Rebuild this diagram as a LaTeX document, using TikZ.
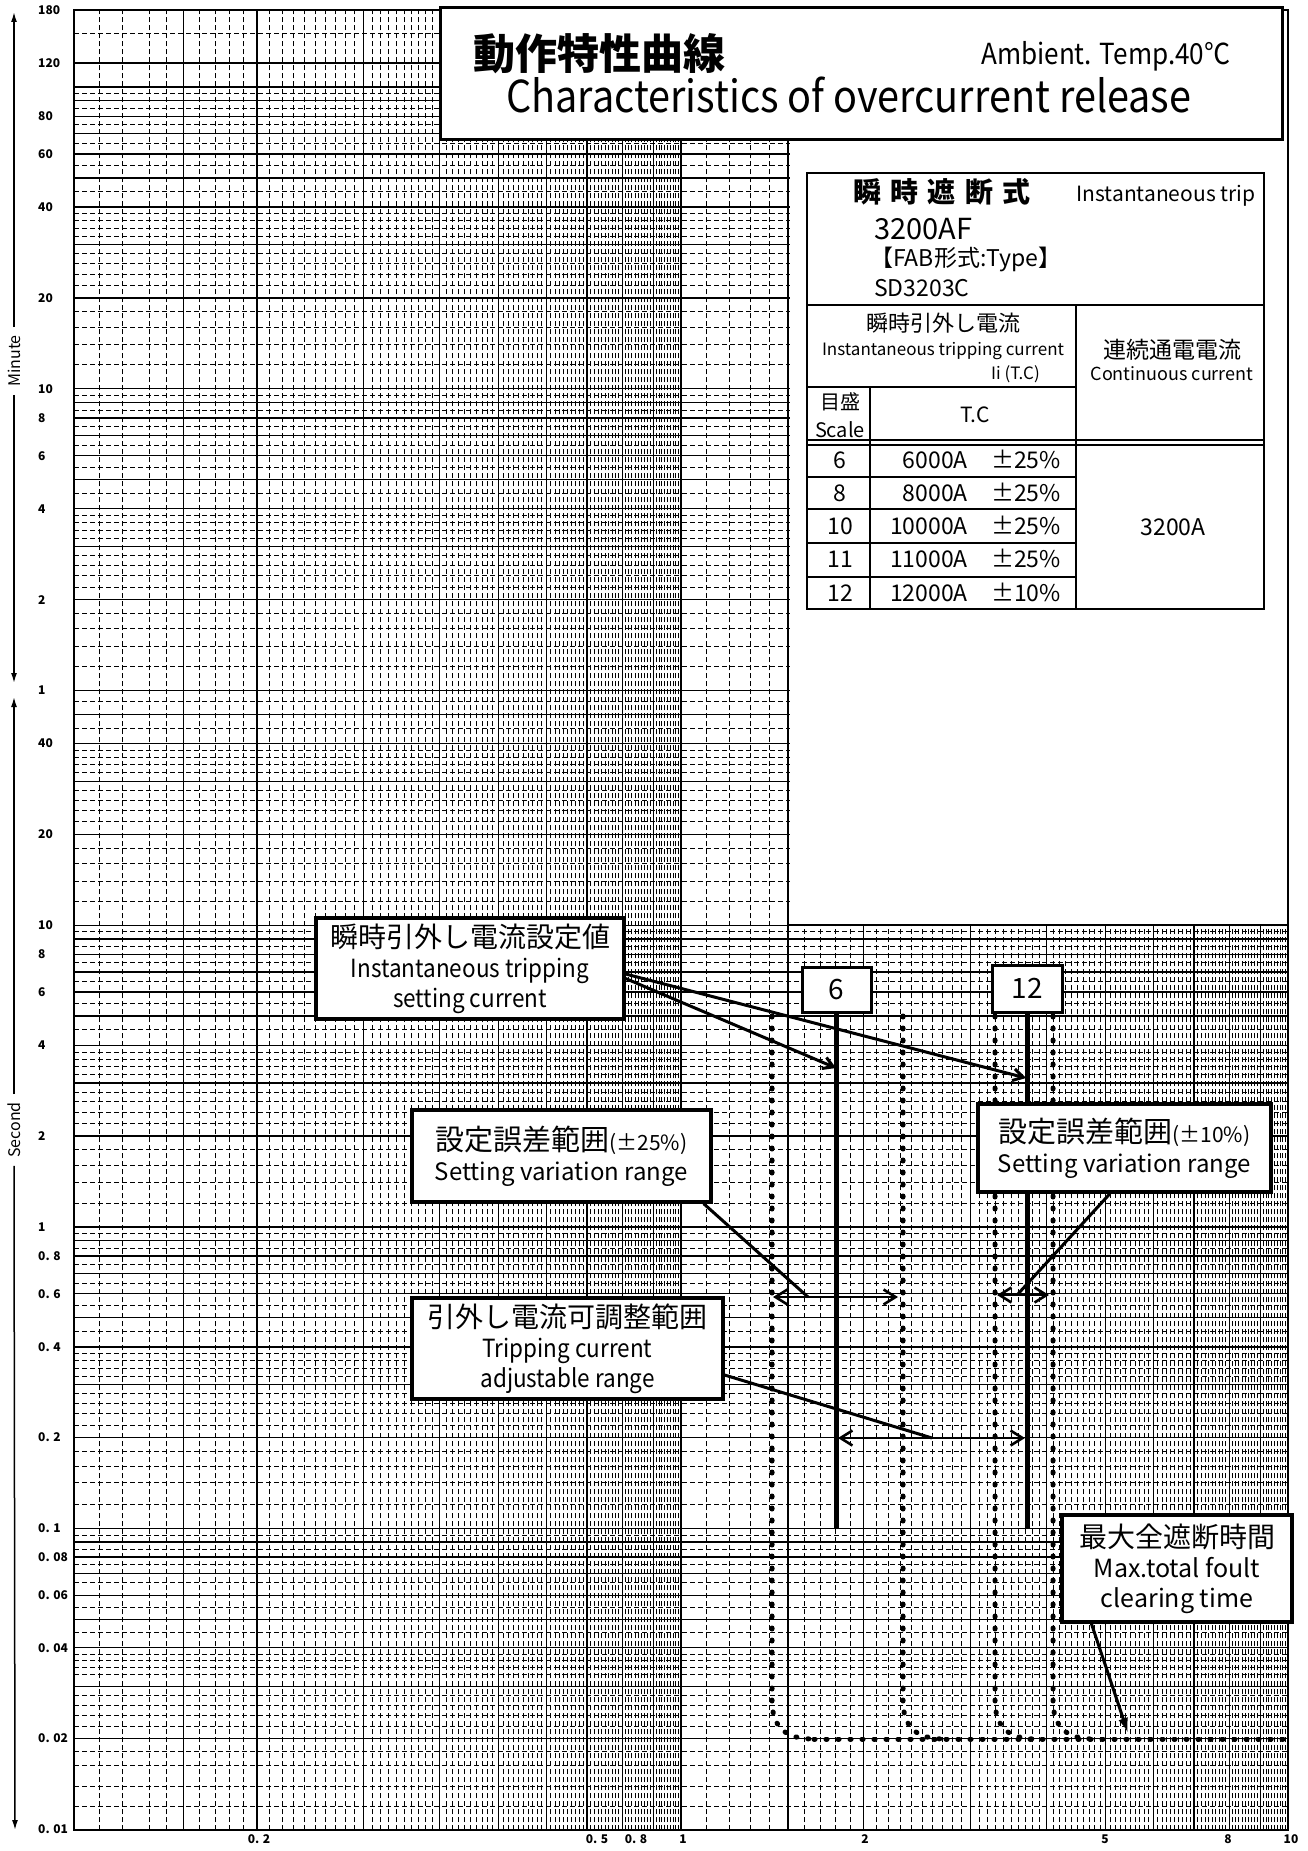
\documentclass[tikz,border=0pt]{standalone}
\usepackage{fontspec}
\setmainfont{Noto Sans CJK JP}
\newfontfamily\narrowsans[FakeStretch=0.9]{Noto Sans CJK JP}
\usetikzlibrary{arrows.meta}

\begin{document}
\begin{tikzpicture}[x=1pt, y=-1pt,
  gridsolid/.style={line width=1.3pt},
  griddash/.style={line width=0.9pt, dash pattern=on 5pt off 3pt},
  dotline/.style={line width=5pt, line cap=round, dash pattern=on 1pt off 11pt},
  callout/.style={draw, line width=3.2pt, fill=white, inner sep=0pt, align=center},
  tcbox/.style={draw, line width=3pt, fill=white, inner sep=0pt, font=\fontsize{28}{30}\selectfont},
  pointer/.style={line width=3pt},
  barb/.style={pointer, -{Straight Barb[length=10pt,width=12pt]}},
  rangearrow/.style={line width=2.6pt, {Straight Barb[length=12pt,width=15pt]}-{Straight Barb[length=12pt,width=15pt]}},
  axisarrow/.style={line width=1.5pt, -{Latex[length=10pt,width=6pt]}},
  ylab/.style={anchor=west, inner sep=0pt, font=\bfseries\fontsize{12}{12}\selectfont},
  xlab/.style={inner sep=0pt, font=\bfseries\fontsize{12}{12}\selectfont},
  ttext/.style={anchor=base, inner sep=0pt}]

\useasboundingbox (0,0) rectangle (1307,1851);
\fill[white] (0,0) rectangle (1307,1851);

%% log-log grid -- current 0.1..10, time 0.01 s .. 180 min
\begin{scope}[shift={(681,1226.9)}, x=607pt, y=301.7pt]
  %% vertical lines
  \foreach \d in {0.1,1}{
    \foreach \k in {11,...,99}{
      \pgfmathtruncatemacro\r{mod(\k,10)}
      \ifnum\r=0\relax\else\ifnum\k=15\relax\else
        \draw[griddash] ({log10(\d*\k/10)},-2) -- ({log10(\d*\k/10)},4.0334);
      \fi\fi
    }
    \foreach \v in {1,1.5,2,3,4,5,6,7,8,9}
      \draw[gridsolid] ({log10(\d*\v)},-2) -- ({log10(\d*\v)},4.0334);
  }
  %% horizontal lines, one decade after the other (seconds, then minutes)
  \foreach \b/\top in {0.01/10, 0.1/10, 1/10, 10/5.9, 60/10, 600/10}{
    \foreach \u in {1.2,1.4,1.6,1.8,2.2,2.4,2.6,2.8,3.2,3.4,3.6,3.8,4.5,5.5,6.5,7.5,8.5,9.5}{
      \ifdim\u pt<\top pt
        \draw[griddash] (-1,{log10(\b*\u)}) -- (1,{log10(\b*\u)});
      \fi
    }
    \foreach \u in {1,...,9}{
      \ifdim\u pt<\top pt
        \draw[gridsolid] (-1,{log10(\b*\u)}) -- (1,{log10(\b*\u)});
      \fi
    }
  }
  %% top: 100, 120, 150 min
  \draw[gridsolid] (-1,{log10(6000)}) -- (1,{log10(6000)});
  \draw[gridsolid] (-1,{log10(7200)}) -- (1,{log10(7200)});
  \draw[griddash] (-1,{log10(9000)}) -- (1,{log10(9000)});
\end{scope}

%% blank corner for the table
\fill[white] (789.5,0) rectangle (1287,923.5);
\draw[gridsolid] (788,10) -- (788,925) -- (1288,925);

%% frame
\draw[line width=2pt] (74,10) rectangle (1288,1830);

%% title
\draw[line width=3pt, fill=white] (440,8) rectangle (1282,140);
\node[ttext, anchor=base west, font=\bfseries\fontsize{42}{42}\selectfont] (titlejp) at (473,70) {動作特性曲線};
\node[ttext, anchor=base west, font=\narrowsans\fontsize{29}{29}\selectfont] (ambient) at (981,65) {Ambient. Temp.40℃};
\node[ttext, anchor=base west, font=\narrowsans\fontsize{44}{44}\selectfont] (titleen) at (506,113) {Characteristics of overcurrent release};

%% table
\draw[line width=2.5pt] (807,173) rectangle (1264,609);
\draw[line width=2pt] (807,305) -- (1264,305);
\draw[line width=2pt] (1076,305) -- (1076,609);
\draw[line width=2pt] (807,387) -- (1076,387);
\draw[line width=2pt] (870,387) -- (870,609);
\draw[line width=2pt] (807,440) -- (1264,440);
\draw[line width=2pt] (807,445) -- (1264,445);
\foreach \y in {477,509,543,577}
  \draw[line width=2pt] (807,\y) -- (1076,\y);

\node[ttext, font=\bfseries\fontsize{28}{28}\selectfont] (insttitle) at (942,203) {瞬\,\,時\,\,遮\,\,断\,\,式};
\node[ttext, font=\fontsize{21}{21}\selectfont] (insttrip) at (1166,202) {Instantaneous trip};
\node[ttext, anchor=base west, font=\fontsize{29}{29}\selectfont] (frame) at (874,240) {3200AF};
\node[ttext, anchor=base west, font=\fontsize{23}{23}\selectfont] (fabtype) at (870,267) {【FAB形式:Type】};
\node[ttext, anchor=base west, font=\fontsize{23}{23}\selectfont] (typeno) at (874,297) {SD3203C};
\node[ttext, font=\fontsize{22}{22}\selectfont] (tripjp) at (943,331) {瞬時引外し電流};
\node[ttext, font=\fontsize{17}{17}\selectfont] (tripen) at (943,355) {Instantaneous tripping current};
\node[ttext, anchor=base east, font=\fontsize{17}{17}\selectfont] (tripii) at (1040,379) {Ii (T.C)};
\node[ttext, font=\fontsize{23}{23}\selectfont] (contjp) at (1172,358) {連続通電電流};
\node[ttext, font=\fontsize{18}{18}\selectfont] (conten) at (1172,380) {Continuous current};
\node[ttext, font=\fontsize{20}{20}\selectfont] (scalejp) at (840,409) {目盛};
\node[ttext, font=\fontsize{20}{20}\selectfont] (scaleen) at (840,437) {Scale};
\node[ttext, font=\fontsize{21}{21}\selectfont] (tchead) at (975,422) {T.C};
\foreach \s/\a/\p [count=\i] in {6/6000A/25, 8/8000A/25, 10/10000A/25, 11/11000A/25, 12/12000A/10}{
  \pgfmathsetmacro\b{468+33.25*(\i-1)}
  \node[ttext, font=\fontsize{23}{23}\selectfont] (sc\i) at (840,\b) {\s};
  \node[ttext, anchor=base east, font=\fontsize{23}{23}\selectfont] (tc\i) at (968,\b) {\a};
  \node[ttext, anchor=base west, font=\fontsize{23}{23}\selectfont] (tol\i) at (991,\b) {±\p\%};
}
\node[ttext, font=\fontsize{23}{23}\selectfont] (contval) at (1173,535) {3200A};

%% time axis
\node[rotate=90, inner sep=8pt, font=\fontsize{16}{16}\selectfont] (minute) at (14,361) {Minute};
\node[rotate=90, inner sep=8pt, font=\fontsize{16}{16}\selectfont] (second) at (14,1130) {Second};
\draw[axisarrow] (minute.east) -- (14,12);
\draw[axisarrow] (minute.west) -- (14,683);
\draw[axisarrow] (second.east) -- (14,697);
\draw[axisarrow] (second.west) -- (15,1830);

\foreach \m [count=\i] in {180,120,80,60,40,20,10,8,6,4,2,1}
  \node[ylab] (lmin\i) at (38,{1226.9-301.7*log10(60*\m)}) {\m};
\foreach \s/\txt [count=\i] in {40/40,20/20,10/10,8/8,6/6,4/4,2/2,1/1,0.8/0. 8,0.6/0. 6,0.4/0. 4,0.2/0. 2,0.1/0. 1,0.08/0. 08,0.06/0. 06,0.04/0. 04,0.02/0. 02,0.01/0. 01}
  \node[ylab] (lsec\i) at (38,{1226.9-301.7*log10(\s)}) {\txt};

%% current axis
\foreach \x/\txt [count=\i] in {259/0. 2, 597/0. 5, 636/0. 8, 683/1, 865/2, 1105/5, 1228/8, 1291/10}
  \node[xlab] (lcur\i) at (\x,1839) {\txt};

%% setting lines 6 and 12
\node[tcbox, minimum width=69pt, minimum height=45pt] (tc6) at (836.5,989.5) {6};
\node[tcbox, minimum width=70pt, minimum height=47pt] (tc12) at (1027,988.5) {12};
\coordinate (bot6) at (836.5,1528);
\coordinate (bot12) at (1027,1528);
\draw[line width=5pt] (tc6.south) -- (bot6);
\draw[line width=5pt] (tc12.south) -- (bot12);

%% max. total clearing time (dotted)
\foreach \x in {772,903,995,1053}
  \draw[dotline] (\x,1016) -- (\x,1700) .. controls (\x,1728) and (\x+14,1739) .. (\x+42,1739);
\draw[dotline] (814,1739) -- (1288,1739);

%% ranges
\coordinate (r25l) at (773,1297);
\coordinate (r25r) at (898,1297);
\coordinate (r10l) at (997,1295);
\coordinate (r10r) at (1049,1295);
\coordinate (adjl) at (838,1438);
\coordinate (adjr) at (1025,1438);
\draw[rangearrow] (r25l) -- (r25r);
\draw[rangearrow] (r10l) -- (r10r);
\draw[rangearrow] (adjl) -- (adjr);

%% callouts
\coordinate (tip6) at (836,1068);
\coordinate (tip12) at (1026,1078);
\coordinate (hit25) at (808,1297);
\coordinate (hit10) at (1017,1295);
\coordinate (hitadj) at (932,1438);
\coordinate (hitmax) at (1128,1733);

\node[callout, minimum width=308pt, minimum height=101pt, font=\narrowsans\fontsize{25}{30}\selectfont] (setcur) at (470,968.5)
  {{\rmfamily\fontsize{28}{30}\selectfont 瞬時引外し電流設定値}\\Instantaneous tripping\\setting current};
\node[callout, minimum width=299pt, minimum height=92pt, font=\fontsize{24}{30}\selectfont] (var25) at (561.5,1156)
  {{\fontsize{29}{30}\selectfont 設定誤差範囲}{\fontsize{21}{30}\selectfont (±25\%)}\\Setting variation range};
\node[callout, minimum width=293pt, minimum height=88pt, font=\fontsize{24}{30}\selectfont] (var10) at (1124.5,1148)
  {{\fontsize{29}{30}\selectfont 設定誤差範囲}{\fontsize{21}{30}\selectfont (±10\%)}\\Setting variation range};
\node[callout, minimum width=311pt, minimum height=101pt, font=\narrowsans\fontsize{25}{30}\selectfont] (adjrange) at (567.5,1348.5)
  {{\rmfamily\fontsize{28}{30}\selectfont 引外し電流可調整範囲}\\Tripping current\\adjustable range};
\node[callout, minimum width=230pt, minimum height=107pt, font=\fontsize{25}{30}\selectfont] (maxclear) at (1177,1568.5)
  {{\fontsize{28}{30}\selectfont 最大全遮断時間}\\Max.total foult\\clearing time};

\draw[barb] ([yshift=-10pt]setcur.east) -- (tip6);
\draw[barb] ([yshift=-5.5pt]setcur.east) -- (tip12);
\draw[pointer] ([xshift=-9pt]var25.south east) -- (hit25);
\draw[pointer] ([xshift=-14.5pt]var10.south) -- (hit10);
\draw[pointer] ([yshift=-26.5pt]adjrange.east) -- (hitadj);
\draw[pointer, -{Latex[length=15pt,width=10pt]}] ([xshift=31pt]maxclear.south west) -- (hitmax);

\end{tikzpicture}
\end{document}
